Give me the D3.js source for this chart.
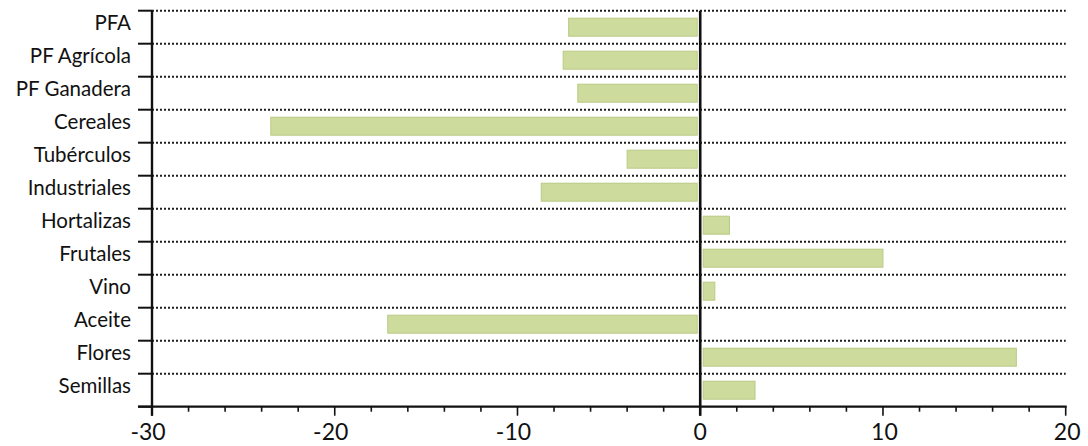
<!DOCTYPE html>
<html>
<head>
<meta charset="utf-8">
<script src="https://cdn.jsdelivr.net/npm/d3@7"></script>
<style>
  html, body { margin: 0; padding: 0; background: #fff; }
  svg { display: block; }
  text { font-family: Lato, "Open Sans", sans-serif; fill: #111; }
</style>
</head>
<body>
<svg id="chart" width="1088" height="446"></svg>
<script>
const categories = ["PFA", "PF Agrícola", "PF Ganadera", "Cereales", "Tubérculos", "Industriales",
  "Hortalizas", "Frutales", "Vino", "Aceite", "Flores", "Semillas"];
const values = [-7.2, -7.5, -6.7, -23.5, -4.0, -8.7, 1.6, 10.0, 0.8, -17.1, 17.3, 3.0];
const xTicks = [-30, -20, -10, 0, 10, 20];
const xMinorTicks = d3.range(-30, 21, 2);

const svg = d3.select("#chart");
const plotLeft = 152, plotRight = 1065.7, plotTop = 10.7, plotBottom = 406.7;

const x = d3.scaleLinear().domain([-30, 20]).range([plotLeft, plotRight]);
const y = d3.scaleBand().domain(categories).range([plotTop, plotBottom]);
const bw = y.bandwidth();
const barH = 18;
const gap = 3;

// gridlines at band boundaries
const bounds = categories.map(c => y(c));
svg.append("g").selectAll("line").data(bounds).join("line")
  .attr("x1", plotLeft).attr("x2", plotRight)
  .attr("y1", d => d).attr("y2", d => d)
  .attr("stroke", "#1e1e1e").attr("stroke-width", 2)
  .attr("stroke-dasharray", "2,2");

// bars
svg.append("g").selectAll("rect").data(categories).join("rect")
  .attr("x", (c, i) => values[i] < 0 ? x(values[i]) : x(0) + gap)
  .attr("width", (c, i) => Math.abs(x(values[i]) - x(0)) - gap)
  .attr("y", c => y(c) + (bw - barH) / 2)
  .attr("height", barH)
  .attr("fill", "#cddb9d")
  .attr("stroke", "#b9cb85")
  .attr("stroke-width", 1);

// y axis
svg.append("line").attr("x1", plotLeft).attr("x2", plotLeft)
  .attr("y1", plotTop).attr("y2", plotBottom + 9)
  .attr("stroke", "#111").attr("stroke-width", 2.4);
svg.append("g").selectAll("line").data(bounds.concat([plotBottom])).join("line")
  .attr("x1", plotLeft - 14).attr("x2", plotLeft)
  .attr("y1", d => d).attr("y2", d => d)
  .attr("stroke", "#111").attr("stroke-width", 2);

// zero line
svg.append("line").attr("x1", x(0)).attr("x2", x(0))
  .attr("y1", plotTop).attr("y2", plotBottom + 9)
  .attr("stroke", "#111").attr("stroke-width", 2.6);

// x axis
svg.append("line").attr("x1", plotLeft - 14).attr("x2", plotRight + 1)
  .attr("y1", plotBottom).attr("y2", plotBottom)
  .attr("stroke", "#111").attr("stroke-width", 2.2);
svg.append("g").selectAll("line").data(xMinorTicks).join("line")
  .attr("x1", d => x(d)).attr("x2", d => x(d))
  .attr("y1", plotBottom).attr("y2", d => xTicks.includes(d) ? plotBottom + 9 : plotBottom + 5)
  .attr("stroke", "#111").attr("stroke-width", 1.6);

// x tick labels
svg.append("g").selectAll("text").data(xTicks).join("text")
  .attr("x", d => x(d) - (d < 0 ? 4 : 0) + (d > 0 ? 1.5 : 0))
  .attr("y", 440)
  .attr("text-anchor", "middle")
  .attr("font-size", 23)
  .text(d => d);

// category labels
svg.append("g").selectAll("text").data(categories).join("text")
  .attr("x", 131)
  .attr("y", c => y(c) + bw / 2 + 2.5)
  .attr("text-anchor", "end")
  .attr("font-size", 20.5)
  .text(c => c);
</script>
</body>
</html>
